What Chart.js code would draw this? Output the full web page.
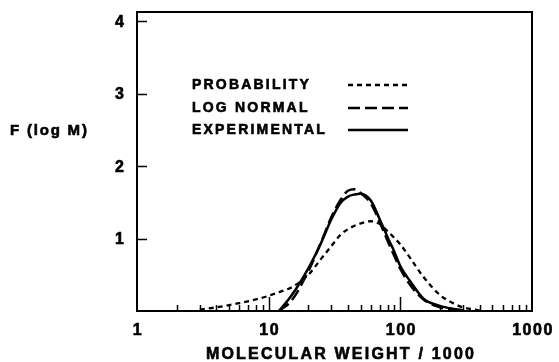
<!DOCTYPE html>
<html>
<head>
<meta charset="utf-8">
<script src="https://cdn.jsdelivr.net/npm/chart.js@4.4.1/dist/chart.umd.min.js"></script>
<style>
html, body { margin: 0; padding: 0; background: #fff; }
</style>
</head>
<body>
<canvas id="myChart" width="559" height="362"></canvas>
<script>
// molecular weight / 1000 and F(log M)
var mwProb = [3, 4, 5, 6, 8, 10, 12, 15, 20, 25, 30, 35, 40, 50, 60, 70, 80, 100, 120, 150, 200, 250, 300, 400];
var fProb = [0.02, 0.05, 0.08, 0.11, 0.16, 0.21, 0.26, 0.33, 0.50, 0.72, 0.90, 1.05, 1.13, 1.21, 1.24, 1.20, 1.10, 0.92, 0.72, 0.47, 0.22, 0.11, 0.05, 0.01];

var mwLogNormal = [12, 15, 20, 25, 30, 35, 40, 45, 50, 60, 70, 80, 90, 100, 120, 150, 200, 250, 300];
var fLogNormal = [0.0, 0.15, 0.55, 0.95, 1.30, 1.53, 1.66, 1.68, 1.63, 1.48, 1.22, 0.97, 0.76, 0.58, 0.35, 0.16, 0.05, 0.01, 0.0];

var mwExp = [12, 15, 20, 25, 30, 35, 40, 45, 50, 60, 70, 80, 90, 100, 120, 150, 200, 250, 300];
var fExp = [0.0, 0.22, 0.59, 0.94, 1.27, 1.49, 1.58, 1.61, 1.62, 1.52, 1.26, 1.02, 0.82, 0.62, 0.40, 0.17, 0.07, 0.03, 0.01];

var xTicks = [1, 10, 100, 1000];
var yTicks = [1, 2, 3, 4];
var legendLabels = ['PROBABILITY', 'LOG NORMAL', 'EXPERIMENTAL'];
var legendDashes = [[5, 4], [12, 5], []];

function toPoints(xs, ys) {
    return xs.map(function (x, i) { return { x: x, y: ys[i] }; });
}

var FONT = "bold %spx 'Liberation Sans', Arial, sans-serif";
function font(size) { return FONT.replace('%s', size); }

// heavy text, like the old typeset labels
function boldText(ctx, t, x, y) {
    ctx.fillText(t, x, y);
    ctx.strokeText(t, x, y);
}

// frame, inward ticks, labels and legend
var framePlugin = {
    id: 'frame',
    afterDraw: function (chart) {
        var ctx = chart.ctx;
        var a = chart.chartArea;
        var xs = chart.scales.x;
        var ys = chart.scales.y;
        ctx.save();
        ctx.strokeStyle = '#000';
        ctx.fillStyle = '#000';
        ctx.setLineDash([]);

        ctx.lineWidth = 2;
        ctx.strokeRect(a.left, a.top, a.right - a.left, a.bottom - a.top);

        // y ticks
        ctx.lineWidth = 1.5;
        yTicks.forEach(function (v) {
            var py = Math.round(ys.getPixelForValue(v)) + 0.5;
            ctx.beginPath();
            ctx.moveTo(a.left, py);
            ctx.lineTo(a.left + 10, py);
            ctx.stroke();
        });

        // x ticks, minor ones in each decade
        [1, 10, 100].forEach(function (dec) {
            for (var k = 1; k <= 9; k++) {
                var v = dec * k;
                if (v === 1) continue;
                var px = Math.round(xs.getPixelForValue(v)) + 0.5;
                var len = k === 1 ? 14 : 6;
                ctx.beginPath();
                ctx.moveTo(px, a.bottom);
                ctx.lineTo(px, a.bottom - len);
                ctx.stroke();
            }
        });

        ctx.textBaseline = 'middle';
        ctx.lineWidth = 0.6;

        // y tick labels
        ctx.font = font(16);
        ctx.textAlign = 'right';
        yTicks.forEach(function (v) {
            boldText(ctx, String(v), 124, ys.getPixelForValue(v) + 1);
        });

        // x tick labels
        ctx.textAlign = 'center';
        ctx.letterSpacing = '1.5px';
        xTicks.forEach(function (v) {
            boldText(ctx, String(v), xs.getPixelForValue(v) + 1, 331);
        });

        // axis titles
        ctx.letterSpacing = '2.2px';
        boldText(ctx, 'MOLECULAR WEIGHT / 1000', 341, 355);
        ctx.textAlign = 'left';
        ctx.font = font(15);
        ctx.letterSpacing = '1.8px';
        boldText(ctx, 'F (log M)', 10, 131);

        // legend
        var rowY = [85, 108, 130];
        ctx.font = font(14);
        ctx.letterSpacing = '2.2px';
        legendLabels.forEach(function (t, i) {
            ctx.lineWidth = 0.6;
            ctx.setLineDash([]);
            boldText(ctx, t, 192, rowY[i]);
            ctx.lineWidth = 2.5;
            ctx.setLineDash(legendDashes[i]);
            ctx.beginPath();
            ctx.moveTo(348, rowY[i]);
            ctx.lineTo(408, rowY[i]);
            ctx.stroke();
        });
        ctx.restore();
    }
};

var ctx = document.getElementById('myChart').getContext('2d');

var myChart = new Chart(ctx, {
    type: 'line',
    data: {
        datasets: [{
            label: legendLabels[0],
            data: toPoints(mwProb, fProb),
            borderColor: '#000',
            borderWidth: 2.3,
            borderDash: legendDashes[0],
            pointRadius: 0,
            cubicInterpolationMode: 'monotone'
        }, {
            label: legendLabels[1],
            data: toPoints(mwLogNormal, fLogNormal),
            borderColor: '#000',
            borderWidth: 2.5,
            borderDash: legendDashes[1],
            pointRadius: 0,
            cubicInterpolationMode: 'monotone'
        }, {
            label: legendLabels[2],
            data: toPoints(mwExp, fExp),
            borderColor: '#000',
            borderWidth: 2.5,
            pointRadius: 0,
            cubicInterpolationMode: 'monotone'
        }]
    },
    options: {
        responsive: false,
        animation: false,
        layout: {
            padding: { left: 137, top: 12, right: 27, bottom: 51 }
        },
        plugins: {
            legend: { display: false },
            tooltip: { enabled: false }
        },
        scales: {
            x: {
                type: 'logarithmic',
                min: 1,
                max: 1000,
                display: false
            },
            y: {
                type: 'linear',
                min: 0,
                max: 4.13,
                display: false
            }
        }
    },
    plugins: [framePlugin]
});
</script>
</body>
</html>
